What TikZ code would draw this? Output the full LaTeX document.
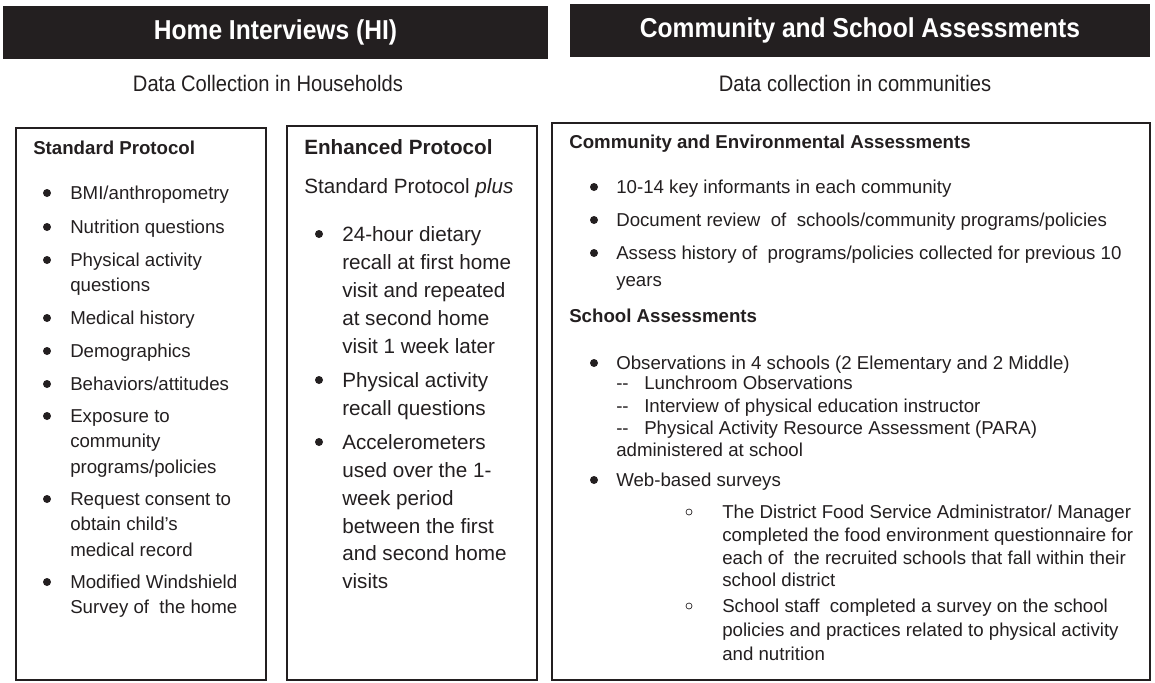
\documentclass[tikz,border=0pt]{standalone}
\usepackage{fontspec}
\setmainfont{Liberation Sans}
\newfontfamily\narrowfont[FakeStretch=0.9]{Liberation Sans}
\usetikzlibrary{positioning}
\definecolor{inkblack}{HTML}{231F20}

\begin{document}
\begin{tikzpicture}[x=0.75pt,y=-0.75pt,inkblack,
  banner/.style={fill=inkblack,text=white,font=\narrowfont\bfseries\fontsize{20.5}{24}\selectfont,minimum height=39.75pt,inner sep=0pt},
  subtitle/.style={font=\narrowfont\fontsize{16.8}{20}\selectfont,inner sep=0pt},
  panel/.style={draw=inkblack,line width=1.1pt},
  txt/.style={anchor=west,inner sep=0pt,text height=10pt,text depth=0pt,font=\fontsize{14}{17}\selectfont},
  bigtxt/.style={txt,text height=11.1pt,font=\fontsize{15.5}{19}\selectfont},
  heading/.style={txt,font=\bfseries\fontsize{14}{17}\selectfont},
  dot/.style={circle,fill=inkblack,inner sep=0pt,minimum size=6pt},
  ring/.style={circle,draw=inkblack,line width=0.5pt,inner sep=0pt,minimum size=4.5pt}]
    \useasboundingbox (0,0) rectangle (1155,682);

    \node[banner,minimum width=408.75pt] (hiban) at (275.5,32.5) {Home Interviews (HI)};
    \node[banner,minimum width=435pt] (csban) at (860,30.5) {Community and School Assessments};
    \node[subtitle] (hisub) at (268,83) {Data Collection in Households};
    \node[subtitle] (cssub) at (855,83) {Data collection in communities};

    \draw[panel] (16,128) rectangle (266,680);
    \draw[panel] (287,126) rectangle (537,680);
    \draw[panel] (552,123) rectangle (1150,680);

    \node[heading] (stdhead) at (33,148) {Standard Protocol};
    \foreach \y/\t [count=\i] in {193/{BMI/anthropometry},227/{Nutrition questions},
        260/{Physical activity},285/{questions},318/{Medical history},351/{Demographics},
        384/{Behaviors/attitudes},416/{Exposure to},441/{community},467/{programs/policies},
        499/{Request consent to},524/{obtain child’s},550/{medical record},
        582/{Modified Windshield},607/{Survey of\ \ the home}}
        \node[txt] (std\i) at (70,\y) {\t};
    \foreach \y [count=\i] in {193,227,260,318,351,384,416,499,582}
        \node[dot] (stddot\i) at (47,\y) {};

    \node[heading,text height=11.1pt,font=\bfseries\fontsize{15.5}{19}\selectfont] (enhhead) at (304,147) {Enhanced Protocol};
    \node[bigtxt] (enhplus) at (304,186) {Standard Protocol \textit{plus}};
    \foreach \y/\t [count=\i] in {234/{24-hour dietary},262/{recall at first home},
        290/{visit and repeated},318/{at second home},346/{visit 1 week later},
        380/{Physical activity},408/{recall questions},442/{Accelerometers},
        470/{used over the 1-},498/{week period},526/{between the first},
        553/{and second home},581/{visits}}
        \node[bigtxt] (enh\i) at (342,\y) {\t};
    \foreach \y [count=\i] in {234,380,442}
        \node[dot] (enhdot\i) at (319,\y) {};

    \node[heading] (comhead) at (569,142) {Community and Environmental Assessments};
    \foreach \y/\t [count=\i] in {187/{10-14 key informants in each community},
        220/{Document review\ \ of\ \ schools/community programs/policies},
        253/{Assess history of\ \ programs/policies collected for previous 10},280/{years}}
        \node[txt] (com\i) at (616,\y) {\t};
    \foreach \y [count=\i] in {187,220,253}
        \node[dot] (comdot\i) at (594,\y) {};

    \node[heading] (schhead) at (569,316) {School Assessments};
    \node[txt] (obs) at (616,363) {Observations in 4 schools (2 Elementary and 2 Middle)};
    \foreach \y/\t [count=\i] in {383/{Lunchroom Observations},
        406/{Interview of physical education instructor},
        428/{Physical Activity Resource Assessment (PARA)}}
        {\node[txt] (dash\i) at (616,\y) {-{}-};
         \node[txt] (obs\i) at (644,\y) {\t};}
    \node[txt] (obsend) at (616,450) {administered at school};
    \node[txt] (web) at (616,480) {Web-based surveys};
    \foreach \y in {363,480}
        \node[dot] (schdot\y) at (594,\y) {};
    \foreach \y/\t [count=\i] in {512/{The District Food Service Administrator/ Manager},
        535/{completed the food environment questionnaire for},
        558/{each of\ \ the recruited schools that fall within their},
        580/{school district},606/{School staff\ \ completed a survey on the school},
        630/{policies and practices related to physical activity},654/{and nutrition}}
        \node[txt] (web\i) at (722,\y) {\t};
    \foreach \y [count=\i] in {512,606}
        \node[ring] (webring\i) at (689,\y) {};
\end{tikzpicture}
\end{document}
